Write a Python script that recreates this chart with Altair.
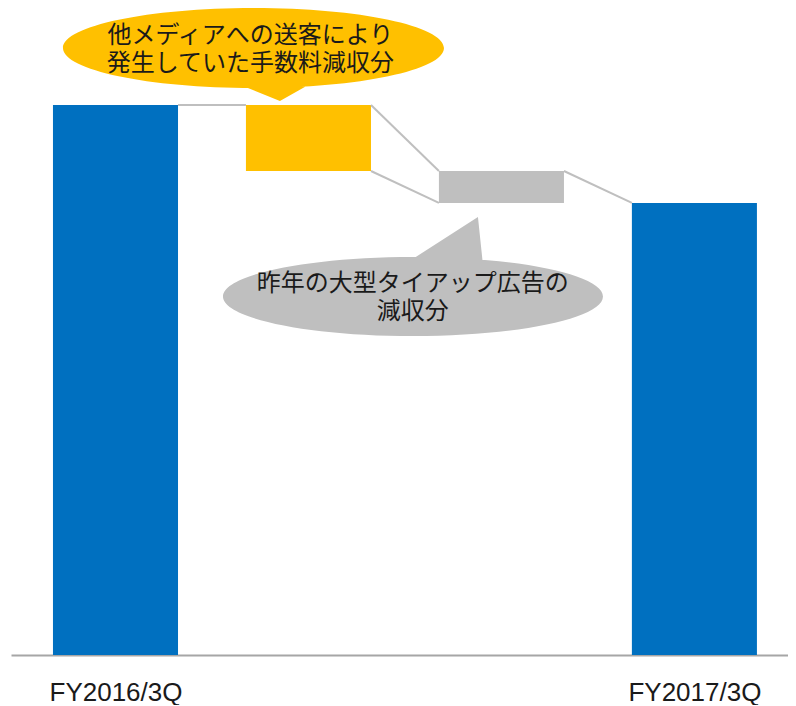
import altair as alt
import pandas as pd

# ---- data ----
categories = ["FY2016/3Q", "送客手数料減収", "大型タイアップ広告減収", "FY2017/3Q"]
values = [100.0, -12.0, -5.8, 82.2]          # totals and deltas
kinds = ["total", "delta", "delta", "total"]
bar_colors = ["#0070C0", "#FFC000", "#BFBFBF", "#0070C0"]
axis_labels = ["FY2016/3Q", "FY2017/3Q"]

callout_lines = [
    ["他メディアへの送客により", "発生していた手数料減収分"],
    ["昨年の大型タイアップ広告の", "減収分"],
]
callout_colors = ["#FFC000", "#BFBFBF"]
callout_x = [1.215, 2.0415]     # bubble centres in data units
callout_y = [110.36, 65.18]
text_x = [1.199, 2.041]
text_y = [112.6, 67.4]

# ---- build tables ----
HALF = 0.324
rows = []
run = 0.0
for i, (c, v, k, col) in enumerate(zip(categories, values, kinds, bar_colors)):
    if k == "total":
        y0, y1 = 0.0, v
        run = v
    else:
        y0, y1 = run, run + v
        run += v
    rows.append(dict(cat=c, x0=i + 0.5 - HALF, x1=i + 0.5 + HALF, y0=y0, y1=y1, color=col, kind=k))
bars = pd.DataFrame(rows)

conn = []
for a, b in zip(rows[:-1], rows[1:]):
    conn.append(dict(x0=a["x1"], x1=b["x0"], y0=max(a["y0"], a["y1"]), y1=max(b["y0"], b["y1"])))
    if a["kind"] == "delta" and b["kind"] == "delta":
        conn.append(dict(x0=a["x1"], x1=b["x0"], y0=min(a["y0"], a["y1"]), y1=min(b["y0"], b["y1"])))
connectors = pd.DataFrame(conn)

K = 0.5523


def bubble(ry, tri):
    a = K * ry
    p = (f"M -1 0 C -1 {-a:.4f} {-K} {-ry:.4f} 0 {-ry:.4f} "
         f"C {K} {-ry:.4f} 1 {-a:.4f} 1 0 "
         f"C 1 {a:.4f} {K} {ry:.4f} 0 {ry:.4f} "
         f"C {-K} {ry:.4f} -1 {a:.4f} -1 0 Z ")
    (x1, y1), (x2, y2), (x3, y3) = tri
    p += f"M {x1} {y1} L {x2} {y2} L {x3} {y3} Z"
    return p


shapes = [
    bubble(0.21, [(-0.0814, 0.189), (0.297, 0.189), (0.139, 0.278)]),
    bubble(0.208, [(-0.026, -0.182), (0.342, -0.418), (0.368, -0.171)]),
]
sizes = [381 ** 2, 380 ** 2]
bubbles = pd.DataFrame(dict(x=callout_x, y=callout_y, shape=shapes, size=sizes, color=callout_colors))
texts = pd.DataFrame(dict(x=text_x, y=text_y, lines=callout_lines))

xscale = alt.Scale(domain=[-0.0415, 3.985], nice=False, zero=False)
yscale = alt.Scale(domain=[0, 117.64], nice=False, zero=False)
label_expr = f"datum.value < 2 ? '{axis_labels[0]}' : '{axis_labels[1]}'"
xaxis = alt.Axis(values=[0.5, 3.5], labelExpr=label_expr, title=None, ticks=False, tickSize=0,
                 grid=False, domainColor="#A6A6A6", domainWidth=2,
                 labelFont="Liberation Sans, Arial, sans-serif", labelFontSize=26,
                 labelColor="#1a1a1a", labelPadding=24, labelFlush=False)

bar_layer = alt.Chart(bars).mark_rect().encode(
    x=alt.X("x0:Q", scale=xscale, axis=xaxis),
    x2="x1:Q",
    y=alt.Y("y0:Q", scale=yscale, axis=None),
    y2="y1:Q",
    color=alt.Color("color:N", scale=None),
)

conn_layer = alt.Chart(connectors).mark_rule(color="#BFBFBF", strokeWidth=2).encode(
    x=alt.X("x0:Q", scale=xscale, axis=xaxis),
    x2="x1:Q",
    y=alt.Y("y0:Q", scale=yscale, axis=None),
    y2="y1:Q",
)

bubble_layer = alt.Chart(bubbles).mark_point(filled=True, opacity=1, strokeWidth=0).encode(
    x=alt.X("x:Q", scale=xscale, axis=xaxis),
    y=alt.Y("y:Q", scale=yscale, axis=None),
    shape=alt.Shape("shape:N", scale=None),
    size=alt.Size("size:Q", scale=None),
    color=alt.Color("color:N", scale=None),
)

text_layer = alt.Chart(texts).mark_text(
    font="Noto Sans CJK JP", fontSize=24, lineHeight=28, color="#1a1a1a",
    align="center", baseline="middle",
).encode(
    x=alt.X("x:Q", scale=xscale, axis=xaxis),
    y=alt.Y("y:Q", scale=yscale, axis=None),
    text="lines",
)

chart = alt.layer(bar_layer, conn_layer, bubble_layer, text_layer).properties(
    width=777, height=647,
    padding={"left": 3, "top": 0, "right": 0, "bottom": 0},
).configure_view(stroke=None)

chart.save("out.html", embed_options={"renderer": "svg", "actions": False})
